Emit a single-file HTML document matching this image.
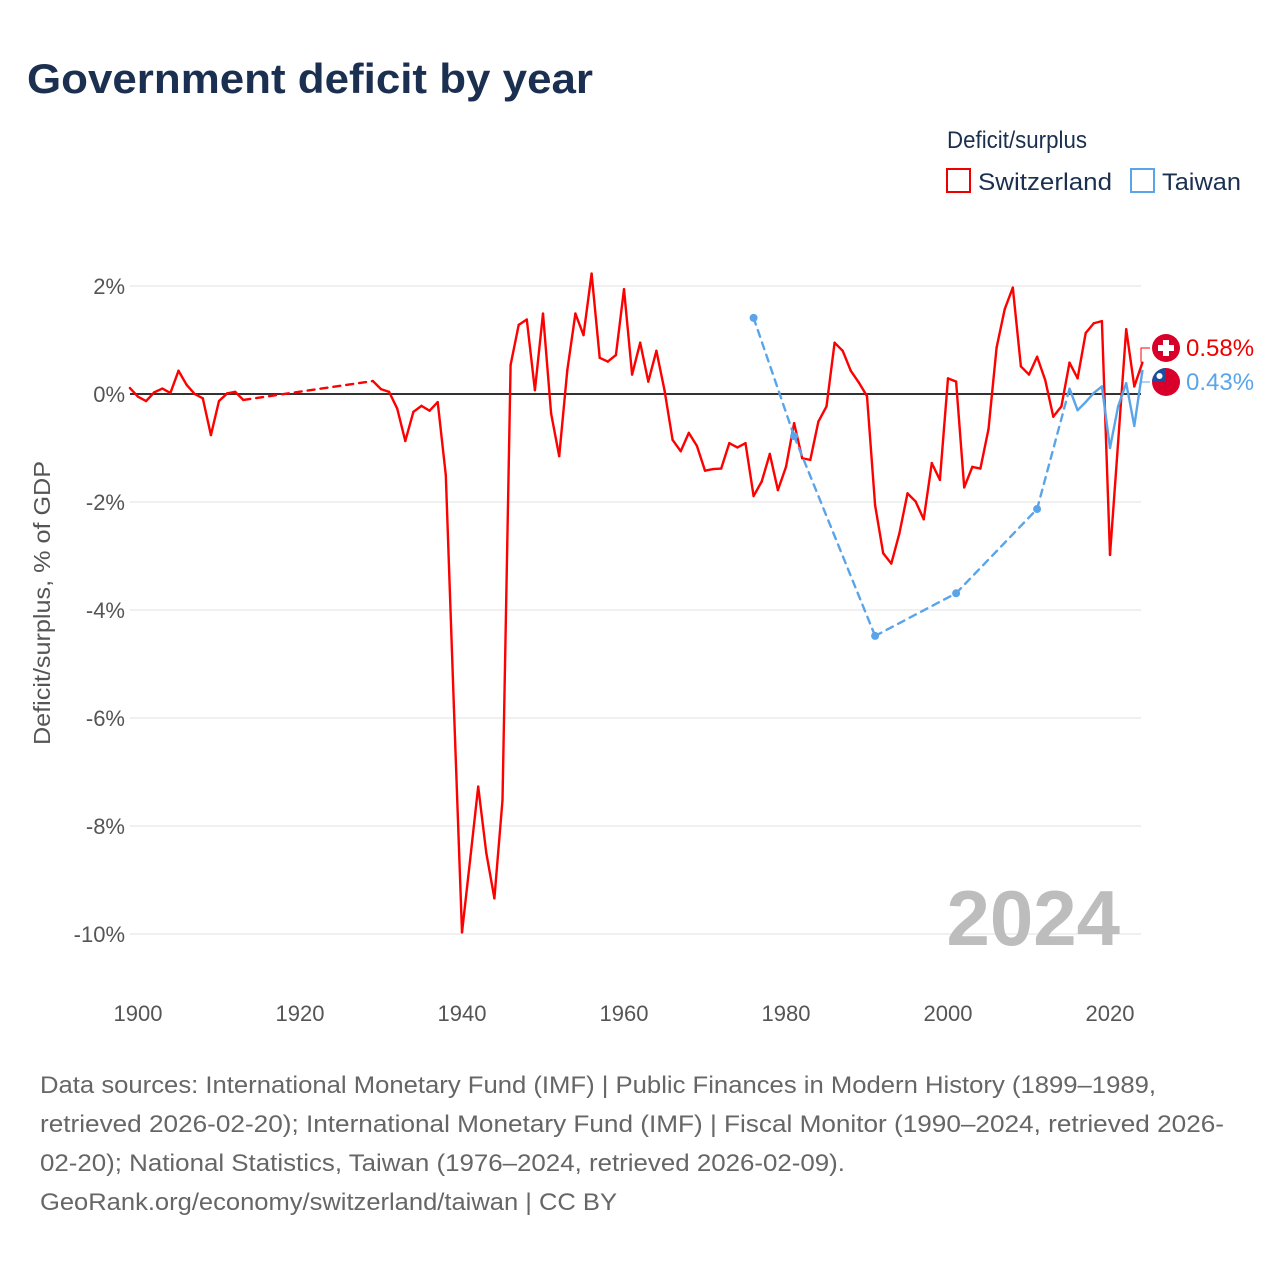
<!DOCTYPE html>
<html><head><meta charset="utf-8"><style>
html,body{margin:0;padding:0;background:#fff;}
svg text{font-family:"Liberation Sans",sans-serif;}
</style></head><body>
<svg id="chart" width="1280" height="1280" viewBox="0 0 1280 1280" xmlns="http://www.w3.org/2000/svg">
<rect width="1280" height="1280" fill="#fff"/>
<text x="27" y="93" font-size="42" font-weight="bold" fill="#1b3050" textLength="566" lengthAdjust="spacingAndGlyphs">Government deficit by year</text>
<text x="947" y="148" font-size="24" fill="#1b3050" textLength="140" lengthAdjust="spacingAndGlyphs">Deficit/surplus</text>
<g>
<rect x="947" y="169" width="23" height="23" fill="none" stroke="#ee0000" stroke-width="2"/>
<text x="978" y="190" font-size="24" fill="#1b3050" textLength="134" lengthAdjust="spacingAndGlyphs">Switzerland</text>
</g>
<g>
<rect x="1131" y="169" width="23" height="23" fill="none" stroke="#5aa5ea" stroke-width="2"/>
<text x="1162" y="190" font-size="24" fill="#1b3050" textLength="79" lengthAdjust="spacingAndGlyphs">Taiwan</text>
</g>
<text transform="translate(50,603) rotate(-90)" text-anchor="middle" font-size="23" fill="#555" textLength="284" lengthAdjust="spacingAndGlyphs">Deficit/surplus, % of GDP</text>
<g id="grid"></g>
<g id="xt"></g>
<text x="1120" y="945" text-anchor="end" font-size="78" font-weight="bold" fill="#bdbdbd">2024</text>
<g id="series"></g>
<g>
<circle cx="1166" cy="348" r="14" fill="#d8002a"/>
<rect x="1163" y="340" width="6" height="16" fill="#fff"/><rect x="1158" y="345" width="16" height="6" fill="#fff"/>
<text x="1186" y="356" font-size="24" fill="#ee0000">0.58%</text>
</g>
<g>
<circle cx="1166" cy="382" r="14" fill="#d8002a"/>
<path d="M1152,382 A14,14 0 0 1 1166,368 L1166,382 Z" fill="#1a4fa0"/>
<circle cx="1159.5" cy="376" r="3" fill="#fff"/>
<text x="1186" y="390" font-size="24" fill="#5aa5ea">0.43%</text>
</g>
<g font-size="24" fill="#666">
<text x="40" y="1093" textLength="1116" lengthAdjust="spacingAndGlyphs">Data sources: International Monetary Fund (IMF) | Public Finances in Modern History (1899–1989,</text>
<text x="40" y="1132" textLength="1184" lengthAdjust="spacingAndGlyphs">retrieved 2026-02-20); International Monetary Fund (IMF) | Fiscal Monitor (1990–2024, retrieved 2026-</text>
<text x="40" y="1171" textLength="805" lengthAdjust="spacingAndGlyphs">02-20); National Statistics, Taiwan (1976–2024, retrieved 2026-02-09).</text>
<text x="40" y="1210" textLength="577" lengthAdjust="spacingAndGlyphs">GeoRank.org/economy/switzerland/taiwan | CC BY</text>
</g>
</svg>
<script>
const yTicks=[2,0,-2,-4,-6,-8,-10];
const xTicks=[1900,1920,1940,1960,1980,2000,2020];
const chYears=[1899,1900,1901,1902,1903,1904,1905,1906,1907,1908,1909,1910,1911,1912,1913,1929,1930,1931,1932,1933,1934,1935,1936,1937,1938,1939,1940,1941,1942,1943,1944,1945,1946,1947,1948,1949,1950,1951,1952,1953,1954,1955,1956,1957,1958,1959,1960,1961,1962,1963,1964,1965,1966,1967,1968,1969,1970,1971,1972,1973,1974,1975,1976,1977,1978,1979,1980,1981,1982,1983,1984,1985,1986,1987,1988,1989,1990,1991,1992,1993,1994,1995,1996,1997,1998,1999,2000,2001,2002,2003,2004,2005,2006,2007,2008,2009,2010,2011,2012,2013,2014,2015,2016,2017,2018,2019,2020,2021,2022,2023,2024];
const chValues=[0.11,-0.05,-0.13,0.03,0.1,0.02,0.43,0.17,0,-0.08,-0.76,-0.13,0.01,0.04,-0.11,0.24,0.09,0.04,-0.27,-0.87,-0.33,-0.22,-0.31,-0.15,-1.5,-5.8,-9.97,-8.63,-7.27,-8.5,-9.34,-7.52,0.54,1.28,1.38,0.07,1.49,-0.36,-1.15,0.44,1.49,1.09,2.23,0.67,0.6,0.72,1.94,0.36,0.95,0.23,0.8,0.07,-0.85,-1.06,-0.72,-0.96,-1.42,-1.39,-1.38,-0.91,-0.99,-0.91,-1.89,-1.62,-1.11,-1.78,-1.35,-0.54,-1.19,-1.22,-0.51,-0.23,0.95,0.8,0.43,0.21,-0.04,-2.06,-2.95,-3.14,-2.58,-1.84,-1.99,-2.32,-1.28,-1.59,0.29,0.23,-1.73,-1.35,-1.38,-0.65,0.86,1.57,1.97,0.51,0.36,0.69,0.26,-0.42,-0.23,0.58,0.29,1.13,1.31,1.35,-2.98,-0.9,1.2,0.14,0.58];
const twYears=[1976,1981,1991,2001,2011,2015,2016,2017,2018,2019,2020,2021,2022,2023,2024];
const twValues=[1.41,-0.78,-4.48,-3.69,-2.13,0.1,-0.3,-0.15,0.02,0.14,-1.0,-0.23,0.2,-0.59,0.43];
const NS='http://www.w3.org/2000/svg';
const X=y=>138+(y-1900)*8.1, Y=v=>394-54*v;
function mk(tag,attrs,parent){const e=document.createElementNS(NS,tag);for(const k in attrs)e.setAttribute(k,attrs[k]);parent.appendChild(e);return e;}
const grid=document.getElementById('grid');
yTicks.forEach(t=>{
  const l=mk('line',{x1:130,x2:1141,y1:Y(t),y2:Y(t),stroke:t===0?'#333':'#e6e6e6','stroke-width':t===0?2:1.2},grid);
  
  
  const tx=mk('text',{x:125,y:Y(t)+8,'text-anchor':'end','font-size':22,fill:'#555'},grid);
  tx.textContent=t+'%';
  
  
});
const xt=document.getElementById('xt');
xTicks.forEach(t=>{
  const tx=mk('text',{x:X(t),y:1021,'text-anchor':'middle','font-size':22,fill:'#555'},xt);
  tx.textContent=t;
  
  
});
const ser=document.getElementById('series');
function draw(years,vals,color,name,dots){
  for(let i=1;i<years.length;i++){
    const gap=years[i]-years[i-1]>1;
    const l=mk('line',{x1:X(years[i-1]),y1:Y(vals[i-1]),x2:X(years[i]),y2:Y(vals[i]),stroke:color,'stroke-width':2.4,'stroke-linecap':'round'},ser);
    if(gap)l.setAttribute('stroke-dasharray','7,6');
    
    
  }
  if(dots){for(let i=0;i<years.length;i++){
    const solidPrev=i>0&&years[i]-years[i-1]===1, solidNext=i<years.length-1&&years[i+1]-years[i]===1;
    if(!solidPrev&&!solidNext){
      const c=mk('circle',{cx:X(years[i]),cy:Y(vals[i]),r:4,fill:color},ser);
      
      
    }}}
}
draw(chYears,chValues,'#ff0000','switzerland-line',false);
draw(twYears,twValues,'#5aa5ea','taiwan-line',true);
mk('path',{d:'M1141,'+Y(0.58)+' L1141,348 L1150,348',stroke:'#ff0000',fill:'none','stroke-width':1},ser);
mk('path',{d:'M1141,'+Y(0.43)+' L1141,382 L1150,382',stroke:'#5aa5ea',fill:'none','stroke-width':1},ser);
</script>
</body></html>
